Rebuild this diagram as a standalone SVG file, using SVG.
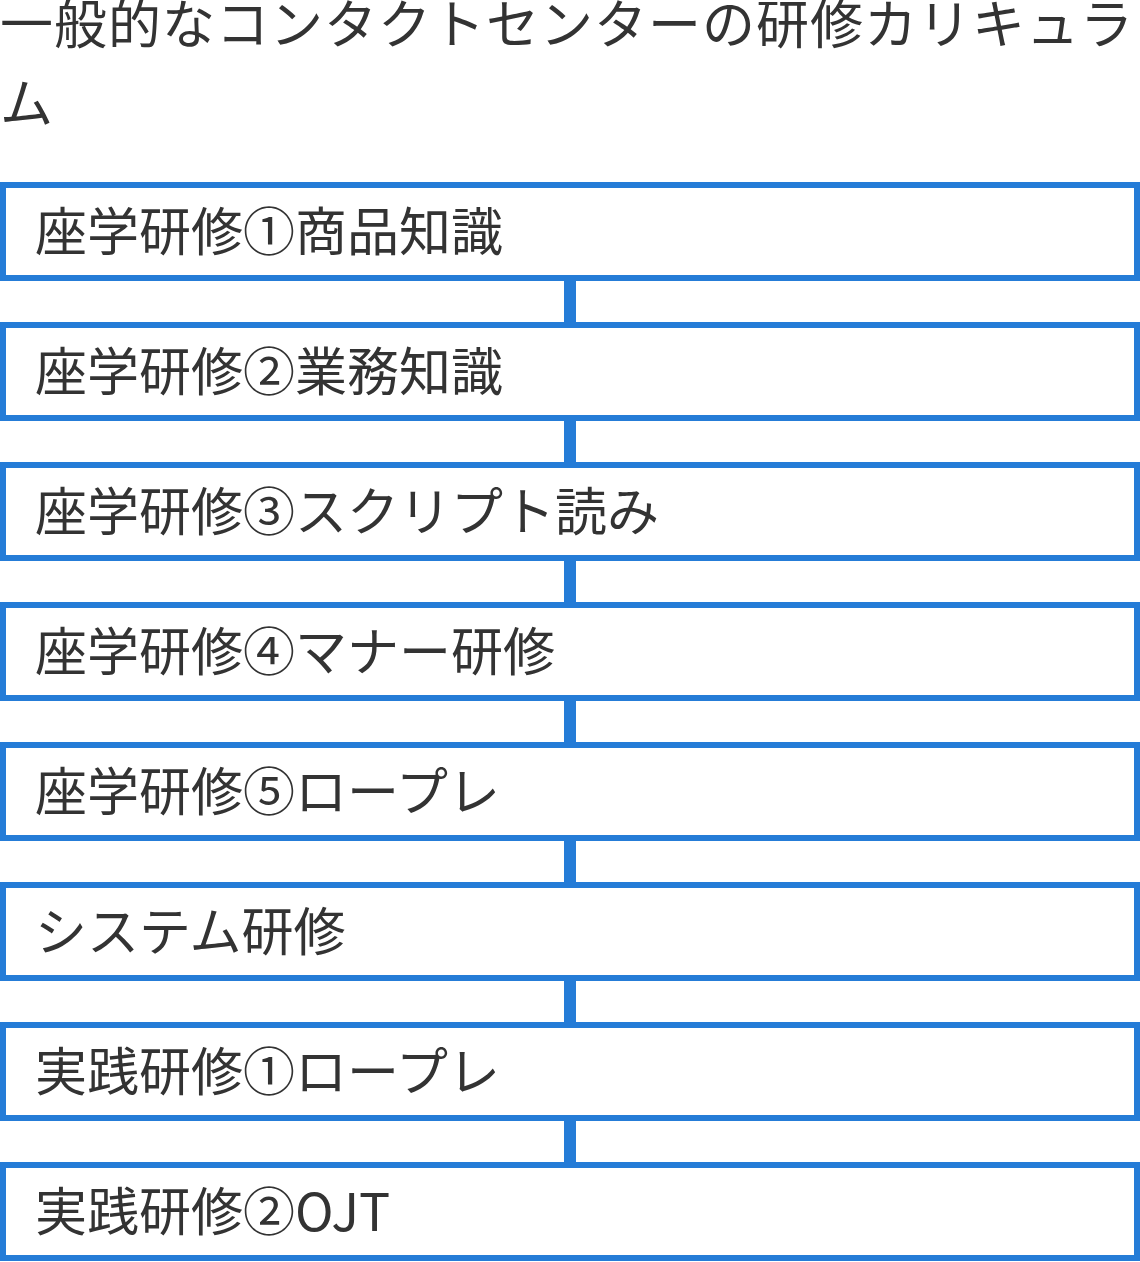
<svg xmlns="http://www.w3.org/2000/svg" width="1140" height="1262" viewBox="0 0 1140 1262">
<style>
.t{font-family:"Noto Sans CJK JP","Noto Sans",sans-serif;fill:#333333;}
.title{font-size:53px;letter-spacing:1px;}
.lbl{font-size:52px;}
.box{fill:#ffffff;stroke:#257cd7;stroke-width:6;}
.con{fill:#257cd7;}
</style>
<rect width="1140" height="1262" fill="#ffffff"/>
<g id="title">
<text class="t title" x="0" y="44">一般的なコンタクトセンターの研修カリキュラ</text>
<text class="t title" x="0" y="123">ム</text>
</g>
<g id="connectors">
<rect class="con" x="564" y="281" width="12" height="41"/>
<rect class="con" x="564" y="421" width="12" height="41"/>
<rect class="con" x="564" y="561" width="12" height="41"/>
<rect class="con" x="564" y="701" width="12" height="41"/>
<rect class="con" x="564" y="841" width="12" height="41"/>
<rect class="con" x="564" y="981" width="12" height="41"/>
<rect class="con" x="564" y="1121" width="12" height="41"/>
</g>
<g id="node1"><rect class="box" x="3" y="185" width="1134" height="93"/><text class="t lbl" x="35" y="251">座学研修①商品知識</text></g>
<g id="node2"><rect class="box" x="3" y="325" width="1134" height="93"/><text class="t lbl" x="35" y="391">座学研修②業務知識</text></g>
<g id="node3"><rect class="box" x="3" y="465" width="1134" height="93"/><text class="t lbl" x="35" y="531">座学研修③スクリプト読み</text></g>
<g id="node4"><rect class="box" x="3" y="605" width="1134" height="93"/><text class="t lbl" x="35" y="671">座学研修④マナー研修</text></g>
<g id="node5"><rect class="box" x="3" y="745" width="1134" height="93"/><text class="t lbl" x="35" y="811">座学研修⑤ロープレ</text></g>
<g id="node6"><rect class="box" x="3" y="885" width="1134" height="93"/><text class="t lbl" x="35" y="951">システム研修</text></g>
<g id="node7"><rect class="box" x="3" y="1025" width="1134" height="93"/><text class="t lbl" x="35" y="1091">実践研修①ロープレ</text></g>
<g id="node8"><rect class="box" x="3" y="1165" width="1134" height="93"/><text class="t lbl" x="35" y="1231">実践研修②OJT</text></g>
</svg>
